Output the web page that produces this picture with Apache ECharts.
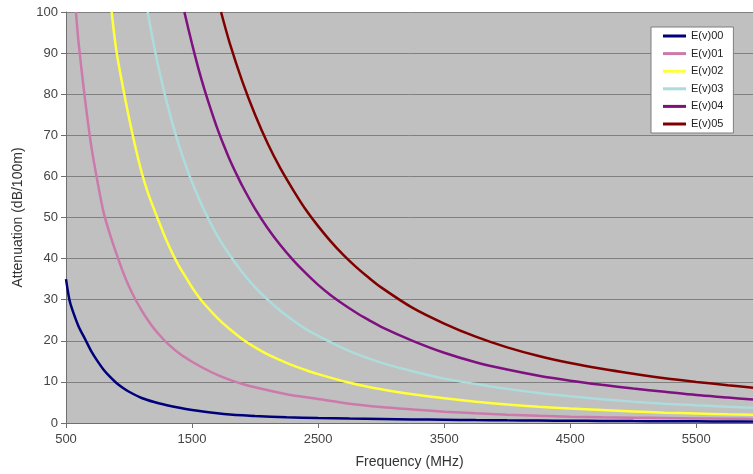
<!DOCTYPE html>
<html>
<head>
<meta charset="utf-8">
<script src="https://cdn.jsdelivr.net/npm/echarts@6/dist/echarts.min.js"></script>
<style>
  html, body { margin: 0; padding: 0; background: #ffffff; }
  #chart { width: 753px; height: 474px; }
</style>
</head>
<body>
<div id="chart"></div>
<script>
// Attenuation versus frequency for six cable types
var seriesNames = ['E(v)00', 'E(v)01', 'E(v)02', 'E(v)03', 'E(v)04', 'E(v)05'];
var seriesColors = ['#00007a', '#cc7aab', '#ffff3a', '#acdcdc', '#7e1080', '#800000'];

// Frequency (MHz) and attenuation (dB/100m) samples per series
var freqEv00 = [500, 527, 550, 600, 650, 700, 750, 800, 850, 900, 950, 1000, 1100, 1200, 1300, 1400, 1500, 1600, 1700, 1800, 1900, 2000, 2250, 2500, 2750, 3000, 3250, 3500, 3750, 4000, 4250, 4500, 4750, 5000, 5250, 5500, 5750, 5950];
var attEv00  = [35, 30, 27.6, 23.5, 20.5, 17.5, 15.05, 12.9, 11.2, 9.74, 8.57, 7.6, 6.09, 5.1, 4.34, 3.71, 3.18, 2.75, 2.39, 2.09, 1.86, 1.68, 1.4, 1.22, 1.08, 0.97, 0.88, 0.8, 0.72, 0.65, 0.59, 0.54, 0.5, 0.46, 0.43, 0.4, 0.37, 0.35];

var freqEv01 = [579, 600, 650, 700, 750, 800, 850, 900, 950, 1000, 1050, 1100, 1150, 1200, 1250, 1300, 1400, 1500, 1600, 1700, 1800, 1900, 2000, 2250, 2500, 2750, 3000, 3250, 3500, 3750, 4000, 4250, 4500, 4750, 5000, 5250, 5500, 5750, 5950];
var attEv01  = [100, 92.5, 79, 67.5, 58.7, 51, 45.8, 41.2, 36.9, 33.2, 30.1, 27.4, 25.0, 22.9, 21.1, 19.5, 16.9, 14.9, 13.2, 11.7, 10.5, 9.5, 8.7, 7.0, 5.85, 4.7, 3.9, 3.3, 2.75, 2.35, 2.02, 1.75, 1.55, 1.4, 1.3, 1.2, 1.1, 1.05, 1.0];

var freqEv02 = [862, 900, 950, 1000, 1050, 1100, 1150, 1200, 1250, 1300, 1350, 1400, 1450, 1500, 1550, 1600, 1700, 1800, 1900, 2000, 2100, 2200, 2300, 2400, 2500, 2750, 3000, 3250, 3500, 3750, 4000, 4250, 4500, 4750, 5000, 5250, 5500, 5750, 5950];
var attEv02  = [100, 90.5, 82, 74.2, 67.2, 61, 56, 51.9, 48, 44.2, 40.9, 38, 35.5, 33, 30.8, 28.9, 25.6, 22.8, 20.4, 18.4, 16.7, 15.3, 14.0, 12.9, 11.9, 9.8, 8.2, 6.97, 6.0, 5.15, 4.5, 3.96, 3.5, 3.15, 2.82, 2.52, 2.3, 2.1, 2.0];

var freqEv03 = [1148, 1200, 1250, 1300, 1350, 1400, 1450, 1500, 1600, 1700, 1800, 1900, 2000, 2100, 2200, 2300, 2400, 2500, 2750, 3000, 3250, 3500, 3750, 4000, 4250, 4500, 4750, 5000, 5250, 5500, 5750, 5950];
var attEv03  = [100, 91.5, 84.3, 78, 72.3, 67.2, 62.7, 58.6, 51.5, 45.6, 40.8, 36.6, 33.0, 30.0, 27.3, 25.0, 22.9, 21.2, 17.5, 14.7, 12.6, 10.8, 9.5, 8.3, 7.3, 6.5, 5.8, 5.2, 4.7, 4.3, 3.95, 3.7];

var freqEv04 = [1439, 1500, 1550, 1600, 1650, 1700, 1750, 1800, 1850, 1900, 2000, 2100, 2200, 2300, 2400, 2500, 2600, 2700, 2800, 2900, 3000, 3250, 3500, 3750, 4000, 4250, 4500, 4750, 5000, 5250, 5500, 5750, 5950];
var attEv04  = [100, 92.2, 86.3, 81, 76.2, 71.7, 67.7, 64, 60.7, 57.6, 52.1, 47.4, 43.3, 39.7, 36.5, 33.6, 31.1, 28.9, 26.9, 25.1, 23.4, 20.0, 17.1, 14.8, 13.0, 11.5, 10.3, 9.3, 8.4, 7.6, 6.8, 6.2, 5.7];

var freqEv05 = [1730, 1800, 1900, 2000, 2100, 2200, 2300, 2400, 2500, 2600, 2700, 2800, 2900, 3000, 3250, 3500, 3750, 4000, 4250, 4500, 4750, 5000, 5250, 5500, 5750, 5950];
var attEv05  = [100, 92.3, 83, 75, 68, 62, 56.8, 52.0, 47.9, 44.2, 40.9, 38.0, 35.4, 33.0, 28.0, 24.2, 21.0, 18.4, 16.3, 14.6, 13.2, 12.0, 10.9, 10.0, 9.2, 8.6];

var xTickValues = [500, 1500, 2500, 3500, 4500, 5500];

var freqs = [freqEv00, freqEv01, freqEv02, freqEv03, freqEv04, freqEv05];
var atts  = [attEv00, attEv01, attEv02, attEv03, attEv04, attEv05];

function pairs(xs, ys) {
  return xs.map(function (x, i) { return [x, ys[i]]; });
}

var series = seriesNames.map(function (name, i) {
  return {
    name: name,
    type: 'line',
    data: pairs(freqs[i], atts[i]),
    smooth: 0.3,
    showSymbol: false,
    symbol: 'none',
    clip: true,
    lineStyle: { color: seriesColors[i], width: 2.5 },
    itemStyle: { color: seriesColors[i] },
    z: 3 + i
  };
});

var chart = echarts.init(document.getElementById('chart'), null, { renderer: 'canvas' });
chart.setOption({
  animation: false,
  backgroundColor: '#ffffff',
  textStyle: { fontFamily: 'Liberation Sans, Arial, sans-serif' },
  grid: {
    left: 66, right: 0, top: 12, bottom: 51,
    show: true, backgroundColor: '#c0c0c0', borderWidth: 0
  },
  legend: {
    orient: 'vertical',
    left: 651, top: 27,
    width: 87,
    padding: [2, 10, 2, 12],
    itemWidth: 23, itemHeight: 3,
    itemGap: 3.6,
    icon: 'rect',
    backgroundColor: '#ffffff',
    borderColor: '#7f7f7f',
    borderWidth: 1,
    borderRadius: 0,
    textStyle: { fontSize: 11, color: '#222', lineHeight: 14, fontFamily: 'Liberation Sans, Arial, sans-serif' },
    data: seriesNames
  },
  xAxis: {
    type: 'value',
    min: 500, max: 5950,
    name: 'Frequency (MHz)',
    nameLocation: 'middle',
    nameGap: 32,
    nameTextStyle: { fontSize: 14, color: '#333' },
    axisLine: { show: true, onZero: false, lineStyle: { color: '#6f6f6f', width: 1 } },
    axisTick: { show: true, length: 5, lineStyle: { color: '#6f6f6f' }, customValues: xTickValues },
    axisLabel: {
      fontSize: 13, color: '#444', margin: 10, customValues: xTickValues,
      formatter: function (v) { return String(v); }
    },
    splitLine: { show: false }
  },
  yAxis: {
    type: 'value',
    min: 0, max: 100, interval: 10,
    name: 'Attenuation (dB/100m)',
    nameLocation: 'middle',
    nameGap: 38,
    nameTextStyle: { fontSize: 14, color: '#333' },
    axisLine: { show: true, lineStyle: { color: '#6f6f6f', width: 1 } },
    axisTick: { show: true, length: 5, lineStyle: { color: '#6f6f6f' } },
    axisLabel: { fontSize: 13, color: '#444', margin: 8 },
    splitLine: { show: true, lineStyle: { color: '#808080', width: 1 } }
  },
  series: series
});
</script>
</body>
</html>
